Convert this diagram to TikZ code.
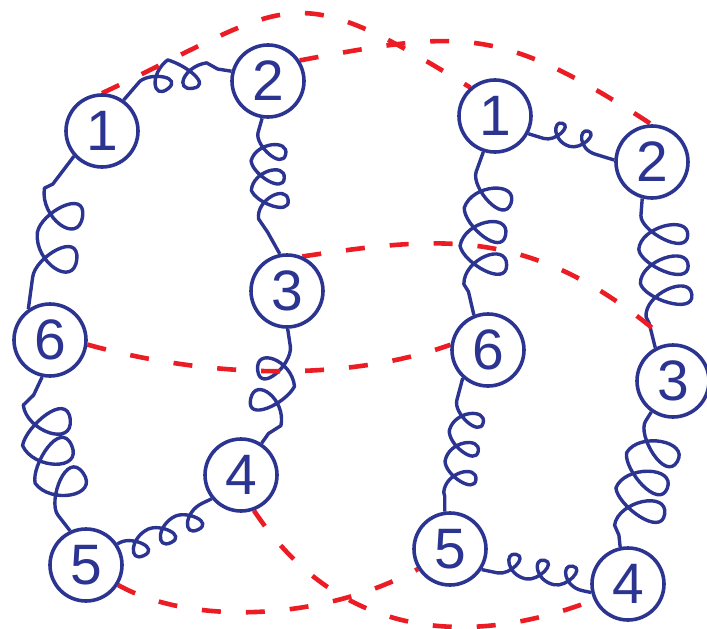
\documentclass[tikz,border=0pt]{standalone}
\usepackage{fontspec}
\setmainfont{Liberation Sans}
\usetikzlibrary{decorations,backgrounds}
\definecolor{gblue}{RGB}{44,52,145}
\definecolor{dred}{RGB}{236,28,36}
% one loop per segment, loop on the +y side of the path
\pgfdeclaredecoration{gloop}{loop}{
  \state{loop}[width=\pgfdecorationsegmentlength,
               switch if less than=\pgfdecorationsegmentlength to final]{
    \pgfpathcurveto
      {\pgfpoint{0.45*\pgfdecorationsegmentlength}{0pt}}
      {\pgfpoint{0.5*\pgfdecorationsegmentlength+\pgfdecorationsegmentaspect*\pgfdecorationsegmentamplitude}{\pgfdecorationsegmentamplitude}}
      {\pgfpoint{0.5*\pgfdecorationsegmentlength}{\pgfdecorationsegmentamplitude}}
    \pgfpathcurveto
      {\pgfpoint{0.5*\pgfdecorationsegmentlength-\pgfdecorationsegmentaspect*\pgfdecorationsegmentamplitude}{\pgfdecorationsegmentamplitude}}
      {\pgfpoint{0.33*\pgfdecorationsegmentlength}{0pt}}
      {\pgfpoint{\pgfdecorationsegmentlength}{0pt}}
  }
  \state{final}{\pgfpathlineto{\pgfpointdecoratedpathlast}}
}
\begin{document}
\begin{tikzpicture}[x=1pt,y=1pt,
  vtx/.style={circle, draw=gblue, line width=3.6pt, fill=white, minimum size=72pt, inner sep=0pt, text=gblue, font=\fontsize{57}{57}\selectfont},
  gl/.style args={#1/#2/#3/#4/#5}{draw=gblue, line width=3.4pt, line join=round, decorate, decoration={gloop, amplitude=#1pt, segment length=#2pt, aspect=#3, pre length=#4pt, post length=#5pt}},
  rd/.style={draw=dred, line width=4.6pt, dash pattern=on 19pt off 25pt}
]
\useasboundingbox (0,0) rectangle (707,-629);
% left ring
\node[vtx] (L1) at (102,-131) {1};
\node[vtx] (L2) at (268,-81) {2};
\node[vtx] (L3) at (287,-291) {3};
\node[vtx] (L4) at (241,-475) {4};
\node[vtx] (L5) at (86,-565) {5};
\node[vtx] (L6) at (50,-340) {6};
% right ring
\node[vtx] (R1) at (495,-116) {1};
\node[vtx] (R2) at (652,-162) {2};
\node[vtx] (R3) at (673,-381) {3};
\node[vtx] (R4) at (628,-584) {4};
\node[vtx] (R5) at (450,-549) {5};
\node[vtx] (R6) at (488,-350) {6};
\begin{pgfonlayer}{background}
% gluons
\draw[gl=23/35/0.82/25/14, decoration=mirror] (L1.55) to[out=60,in=170] (L2.165);
\draw[gl=32/29/0.5/15/25] (L2.-99) to[bend right=25] (L3.101);
\draw[gl=35/40/0.68/18/12, decoration=mirror] (L3.-89) to[bend left=24] (L4.57);
\draw[gl=22/30/0.78/4/6, decoration=mirror] (L5.34) -- (L4.-141);
\draw[gl=45/39/0.64/20/20, decoration=mirror] (L5.115) to[out=130,in=-120] (L6.-102);
\draw[gl=42/45/0.7/32/35, decoration=mirror] (L6.125) to[out=80,in=225] (L1.-138);
\draw[gl=20/27/0.5/16/15] (R1.-28) -- (R2.177);
\draw[gl=48/34/0.44/17/25] (R2.-105) to[bend right=10] (R3.118);
\draw[gl=48/36.5/0.5/11/12] (R3.-125) to[bend right=20] (R4.102);
\draw[gl=43/38/0.54/21/24] (R1.-108) to[bend right=18] (R6.112);
\draw[gl=31/31/0.48/23/15] (R6.-132) to[bend right=8] (R5.98);
\draw[gl=22/29/0.56/16/5] (R5.-33) -- (R4.-167);
% red dashed lines
\draw[rd] (L1.90) .. controls (296,-2) and (286,26) .. (R1.131);
\draw[rd] (L2.33) .. controls (463,-30) and (499,-25) .. (R2.91);
\draw[rd] (L3.66) .. controls (446,-235) and (536,-226) .. (R3.94);
\draw[rd] (L6.-7) .. controls (200,-376) and (340,-384) .. (R6.172);
\draw[rd] (L5.-32) .. controls (190,-625) and (320,-622) .. (R5.-148);
\draw[rd] (L4.-70) .. controls (340,-640) and (470,-648) .. (R4.-155);
\end{pgfonlayer}
\end{tikzpicture}
\end{document}
